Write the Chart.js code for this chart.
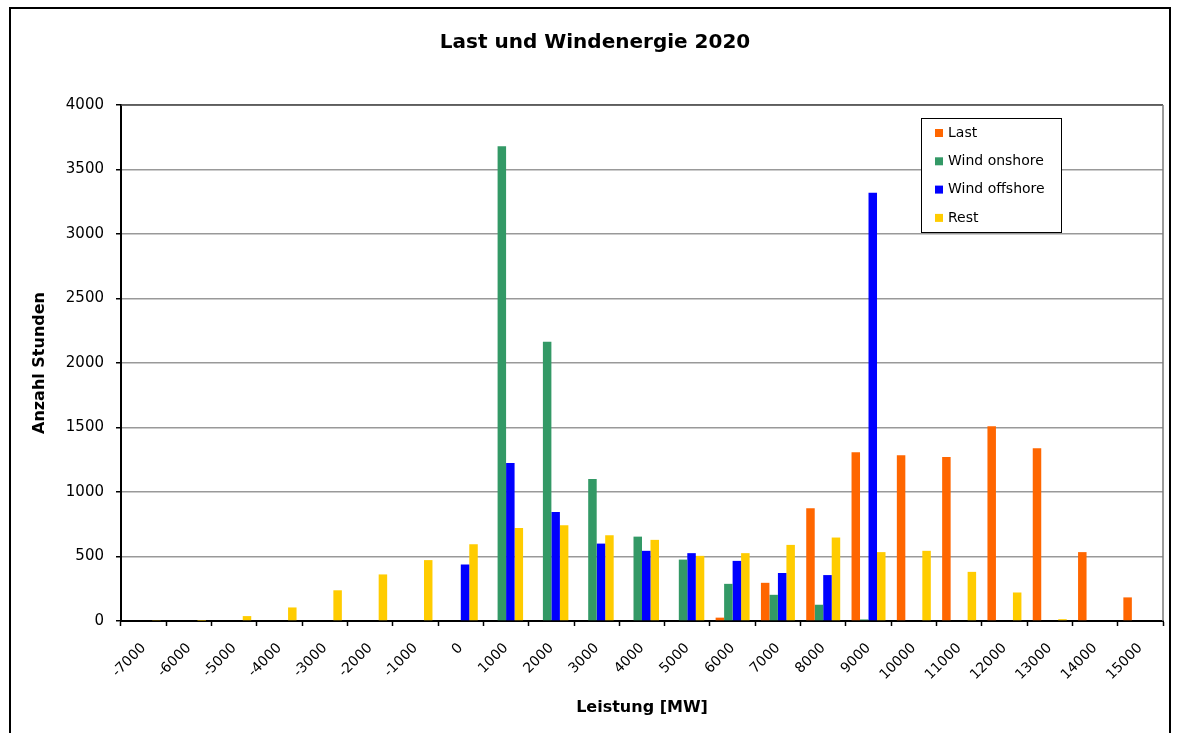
<!DOCTYPE html>
<html>
<head>
<meta charset="utf-8">
<script src="https://cdn.jsdelivr.net/npm/chart.js@4.4.1/dist/chart.umd.min.js"></script>
<style>
  html, body { margin: 0; padding: 0; background: #fff; }
  #wrap { width: 1180px; height: 733px; position: relative; }
</style>
</head>
<body>
<div id="wrap"><canvas id="c" width="1180" height="733"></canvas></div>
<script>
const categories = ['-7000','-6000','-5000','-4000','-3000','-2000','-1000','0','1000','2000','3000','4000','5000','6000','7000','8000','9000','10000','11000','12000','13000','14000','15000'];
const last         = [0,0,0,0,0,0,0,0,0,0,0,0,0,26,296,874,1309,1284,1271,1510,1340,534,183];
const windOnshore  = [0,0,0,0,0,0,0,0,3680,2165,1100,654,476,288,203,126,12,0,0,0,0,0,0];
const windOffshore = [0,0,0,0,0,0,0,438,1225,845,600,544,526,466,372,356,3320,0,0,0,0,0,0];
const rest         = [4,2,38,105,238,361,472,595,721,742,665,629,505,526,590,647,534,544,381,221,14,0,0];
const yTicks = [0,500,1000,1500,2000,2500,3000,3500,4000];

const FONT = '"DejaVu Sans", Verdana, sans-serif';

const framePlugin = {
  id: 'frame',
  beforeDraw(chart) {
    const ctx = chart.ctx;
    ctx.save();
    ctx.fillStyle = '#fff';
    ctx.fillRect(0, 0, chart.width, chart.height);
    ctx.strokeStyle = '#000';
    ctx.lineWidth = 2;
    ctx.strokeRect(10, 8, 1160, 760);
    ctx.restore();
  },
  beforeDatasetsDraw(chart) {
    const a = chart.chartArea, ctx = chart.ctx;
    ctx.save();
    ctx.strokeStyle = '#4a4a4a';
    ctx.lineWidth = 1.5;
    ctx.beginPath();
    ctx.moveTo(a.left, a.top);
    ctx.lineTo(a.right, a.top);
    ctx.stroke();
    ctx.strokeStyle = '#7a7a7a';
    ctx.beginPath();
    ctx.moveTo(a.right, a.top);
    ctx.lineTo(a.right, a.bottom);
    ctx.stroke();
    ctx.restore();
  }
};

const boxLegend = {
  id: 'boxLegend',
  afterDraw(chart, args, opts) {
    const ctx = chart.ctx;
    const x = opts.x, y = opts.y, w = opts.w, h = opts.h;
    ctx.save();
    ctx.fillStyle = '#fff';
    ctx.fillRect(x, y, w, h);
    ctx.strokeStyle = '#000';
    ctx.lineWidth = 1;
    ctx.strokeRect(x + 0.5, y + 0.5, w, h);
    ctx.font = '14px ' + FONT;
    ctx.textBaseline = 'middle';
    ctx.textAlign = 'left';
    chart.data.datasets.forEach((ds, i) => {
      const cy = y + opts.first + i * opts.step;
      ctx.fillStyle = ds.backgroundColor;
      ctx.fillRect(x + 14, cy - 4, 8, 8);
      ctx.fillStyle = '#000';
      ctx.fillText(ds.label, x + 27, cy);
    });
    ctx.restore();
  }
};

new Chart(document.getElementById('c'), {
  type: 'bar',
  data: {
    labels: categories,
    datasets: [
      { label: 'Last', data: last, backgroundColor: '#FF6600' },
      { label: 'Wind onshore', data: windOnshore, backgroundColor: '#339966' },
      { label: 'Wind offshore', data: windOffshore, backgroundColor: '#0000FF' },
      { label: 'Rest', data: rest, backgroundColor: '#FFCC00' }
    ]
  },
  options: {
    responsive: false,
    animation: false,
    events: [],
    layout: { padding: { top: 0, right: 17, left: 27, bottom: 0 } },
    datasets: { bar: { barPercentage: 1.0, categoryPercentage: 0.75, borderWidth: 0 } },
    plugins: {
      legend: { display: false },
      tooltip: { enabled: false },
      title: {
        display: true,
        text: 'Last und Windenergie 2020',
        color: '#000',
        font: { family: FONT, size: 20, weight: 'bold' },
        padding: { top: 31, bottom: 50 }
      },
      boxLegend: { x: 921, y: 118, w: 140, h: 114, first: 15, step: 28.3 }
    },
    scales: {
      x: {
        afterFit(scale) { scale.height = 112; },
        grid: { display: true, drawOnChartArea: false, drawTicks: true, tickLength: 5, tickColor: '#000', tickWidth: 1.5, offset: true },
        border: { display: true, color: '#000', width: 2 },
        ticks: {
          color: '#000', autoSkip: false, minRotation: 45, maxRotation: 45, padding: 14,
          font: { family: FONT, size: 14 }
        },
        title: {
          display: true, text: 'Leistung [MW]', color: '#000',
          font: { family: FONT, size: 16, weight: 'bold' },
          padding: { top: 0, bottom: 16 }
        }
      },
      y: {
        min: 0, max: 4000,
        afterFit(scale) { scale.width = 94; },
        afterBuildTicks(scale) { scale.ticks = yTicks.map(v => ({ value: v })); },
        grid: { color: '#999999', lineWidth: 1.5, drawTicks: true, tickLength: 5, tickColor: '#000', tickWidth: 1.5 },
        border: { display: true, color: '#000', width: 2 },
        ticks: { color: '#000', padding: 12, font: { family: FONT, size: 15 }, callback: (v) => String(v) },
        title: {
          display: true, text: 'Anzahl Stunden', color: '#000',
          font: { family: FONT, size: 16, weight: 'bold' },
          padding: { top: 3, bottom: 0 }
        }
      }
    }
  },
  plugins: [framePlugin, boxLegend]
});
</script>
</body>
</html>
